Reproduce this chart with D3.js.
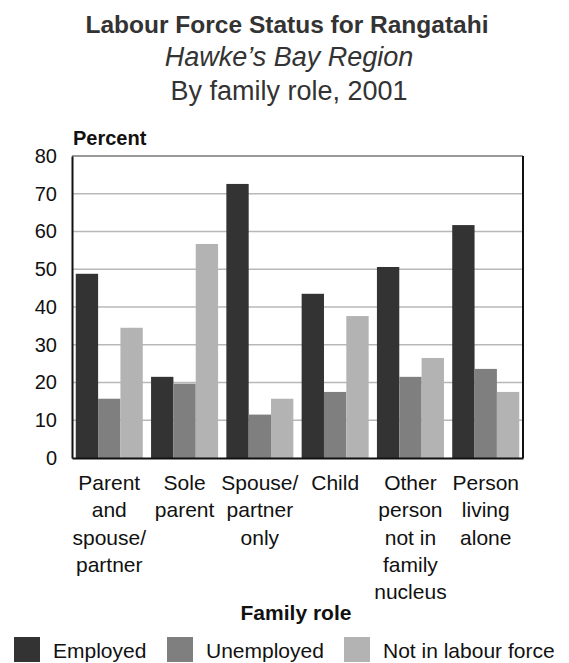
<!DOCTYPE html>
<html lang="en">
<head>
<meta charset="UTF-8">
<title>Labour Force Status for Rangatahi</title>
<script src="https://cdn.jsdelivr.net/npm/d3@7"></script>
<style>
    body{margin:0;background:#fff;}
    text{font-family:Arial,"Liberation Sans",sans-serif;fill:#111;}
</style>
</head>
<body>
<svg width="569" height="663"></svg>
<script>
    // data
    var roles = ["Parent and spouse/partner","Sole parent","Spouse/partner only","Child","Other person not in family nucleus","Person living alone"];
    var roleLines = [["Parent","and","spouse/","partner"],["Sole","parent"],["Spouse/","partner","only"],["Child"],["Other","person","not in","family","nucleus"],["Person","living","alone"]];
    var seriesNames = ["Employed","Unemployed","Not in labour force"];
    var employed = [48.8, 21.5, 72.6, 43.5, 50.6, 61.7];
    var unemployed = [15.7, 19.7, 11.5, 17.5, 21.5, 23.6];
    var notInLabour = [34.5, 56.7, 15.7, 37.6, 26.5, 17.5];
    var yTicks = [0,10,20,30,40,50,60,70,80];
    var colours = ["#333333","#7f7f7f","#b3b3b3"];

    var series = [employed, unemployed, notInLabour];
    var svg = d3.select("svg");
    var plotLeft = 72, plotRight = 523, plotTop = 156, plotBottom = 458;

    var x0 = d3.scaleBand().domain(roles).range([plotLeft,plotRight]).paddingInner(0.11).paddingOuter(0.05);
    var x1 = d3.scaleBand().domain(seriesNames).range([0,x0.bandwidth()]);
    var y = d3.scaleLinear().domain([0,80]).range([plotBottom,plotTop]);
    var colour = d3.scaleOrdinal().domain(seriesNames).range(colours);

    // titles
    svg.append("text").attr("x",287).attr("y",33).attr("text-anchor","middle")
        .style("font-size","24.5px").style("font-weight","bold").style("fill","#333").text("Labour Force Status for Rangatahi");
    svg.append("text").attr("x",289).attr("y",66).attr("text-anchor","middle")
        .style("font-size","27px").style("font-style","italic").style("fill","#333").text("Hawke\u2019s Bay Region");
    svg.append("text").attr("x",289).attr("y",100).attr("text-anchor","middle")
        .style("font-size","27px").style("fill","#333").text("By family role, 2001");

    // gridlines
    svg.append("g").selectAll("line").data(yTicks.filter(function(d){return d>0 && d<80;}))
        .enter().append("line")
        .attr("x1",plotLeft).attr("x2",plotRight)
        .attr("y1",function(d){return y(d);}).attr("y2",function(d){return y(d);})
        .style("stroke","#b8b8b8").style("stroke-width",1.5);

    // bars
    var rows = roles.map(function(r,i){
        return seriesNames.map(function(s,j){ return {role:r, name:s, value:series[j][i]}; });
    });
    svg.append("g").selectAll("g").data(rows).enter().append("g")
        .attr("transform",function(d,i){return "translate("+x0(roles[i])+",0)";})
        .selectAll("rect").data(function(d){return d;}).enter().append("rect")
        .attr("x",function(d){return x1(d.name);})
        .attr("width",x1.bandwidth())
        .attr("y",function(d){return y(d.value);})
        .attr("height",function(d){return y(0)-y(d.value);})
        .style("fill",function(d){return colour(d.name);});

    // frame
    svg.append("line").attr("x1",plotLeft).attr("x2",plotRight).attr("y1",plotTop).attr("y2",plotTop)
        .style("stroke","#999").style("stroke-width",2);
    svg.append("line").attr("x1",plotRight).attr("x2",plotRight).attr("y1",plotTop).attr("y2",plotBottom)
        .style("stroke","#111").style("stroke-width",2);

    // y axis
    var yAxis = svg.append("g").attr("transform","translate("+plotLeft+",0)")
        .call(d3.axisLeft(y).tickValues(yTicks).tickSize(0).tickPadding(15));
    yAxis.select(".domain").style("stroke","#111").style("stroke-width",2);
    yAxis.selectAll("text").style("font-size","20px").style("fill","#111").attr("font-family",null);

    // x axis
    var xAxis = svg.append("g").attr("transform","translate(0,"+plotBottom+")")
        .call(d3.axisBottom(x0).tickSize(0).tickFormat(""));
    xAxis.select(".domain").style("stroke","#111").style("stroke-width",2);
    xAxis.selectAll(".tick").each(function(d,i){
        var t = d3.select(this).append("text").attr("text-anchor","middle").attr("y",32)
            .style("font-size","21px").style("fill","#111");
        roleLines[i].forEach(function(line,k){
            t.append("tspan").attr("x",0).attr("y",32+k*27.3).text(line);
        });
    });

    // axis titles
    svg.append("text").attr("x",73).attr("y",145).style("font-size","20px").style("font-weight","bold").text("Percent");
    svg.append("text").attr("x",296).attr("y",620).attr("text-anchor","middle")
        .style("font-size","21px").style("font-weight","bold").text("Family role");

    // legend
    var legendX = [14,167,344];
    var legend = svg.append("g").selectAll("g").data(seriesNames).enter().append("g")
        .attr("transform",function(d,i){return "translate("+legendX[i]+",637)";});
    legend.append("rect").attr("width",26).attr("height",25).style("fill",function(d){return colour(d);});
    legend.append("text").attr("x",39).attr("y",21).style("font-size","21px").text(function(d){return d;});
</script>
</body>
</html>
